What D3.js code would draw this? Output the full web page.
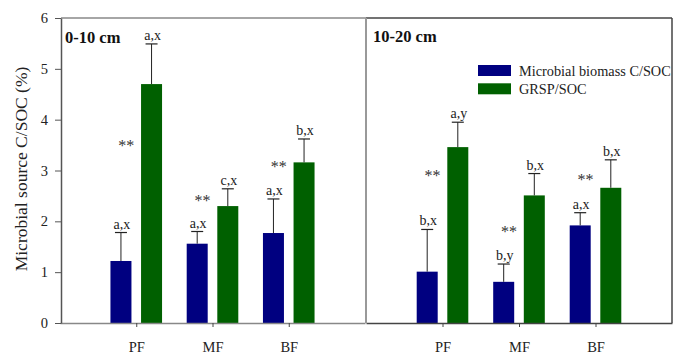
<!DOCTYPE html>
<html>
<head>
<meta charset="utf-8">
<script src="https://cdn.jsdelivr.net/npm/d3@7"></script>
<style>
  body { margin: 0; background: #fff; }
  text { font-family: "Liberation Serif", "Times New Roman", serif; }
</style>
</head>
<body>
<svg width="689" height="361"></svg>
<script>
// data
var categories = ["PF", "MF", "BF"];
var depths = ["0-10 cm", "10-20 cm"];
var seriesNames = ["Microbial biomass C/SOC", "GRSP/SOC"];
var colors = ["#000080", "#006000"];
var yTicks = [0, 1, 2, 3, 4, 5, 6];

var mbcTop = [1.22, 1.56, 1.77];
var mbcTopErr = [0.56, 0.24, 0.67];
var grspTop = [4.70, 2.30, 3.16];
var grspTopErr = [0.79, 0.34, 0.46];
var mbcSub = [1.01, 0.81, 1.92];
var mbcSubErr = [0.83, 0.35, 0.25];
var grspSub = [3.46, 2.51, 2.66];
var grspSubErr = [0.49, 0.43, 0.55];

var mbcTopLetters = ["a,x", "a,x", "a,x"];
var grspTopLetters = ["a,x", "c,x", "b,x"];
var mbcSubLetters = ["b,x", "b,y", "a,x"];
var grspSubLetters = ["a,y", "b,x", "b,x"];

// height at which the "**" marks sit
var starTop = [3.52, 2.43, 3.10];
var starSub = [2.93, 1.83, 2.85];

var svg = d3.select("svg");
var plotTop = 18, plotBottom = 323;
var y = d3.scaleLinear().domain([0, 6]).range([plotBottom, plotTop]);

var panels = [
  {x0: 60, x1: 365, label: depths[0], mbc: mbcTop, mbcErr: mbcTopErr, grsp: grspTop, grspErr: grspTopErr,
   mbcL: mbcTopLetters, grspL: grspTopLetters, stars: starTop},
  {x0: 366, x1: 672, label: depths[1], mbc: mbcSub, mbcErr: mbcSubErr, grsp: grspSub, grspErr: grspSubErr,
   mbcL: mbcSubLetters, grspL: grspSubLetters, stars: starSub}
];

var barW = 21, off = 15.3;

panels.forEach(function(p, pi) {
  var x = d3.scalePoint().domain(categories).range([p.x0, p.x1]).padding(1);
  var g = svg.append("g");

  var series = [
    {v: p.mbc, e: p.mbcErr, l: p.mbcL, c: colors[0], dx: -off},
    {v: p.grsp, e: p.grspErr, l: p.grspL, c: colors[1], dx: off}
  ];

  series.forEach(function(s) {
    var rows = categories.map(function(c, i) { return {c: c, v: s.v[i], e: s.e[i], l: s.l[i]}; });
    g.selectAll(null).data(rows).enter().append("rect")
      .attr("x", d => x(d.c) + s.dx - barW / 2)
      .attr("y", d => y(d.v))
      .attr("width", barW)
      .attr("height", d => y(0) - y(d.v))
      .attr("fill", s.c);
    g.selectAll(null).data(rows).enter().append("line")
      .attr("x1", d => x(d.c) + s.dx).attr("x2", d => x(d.c) + s.dx)
      .attr("y1", d => y(d.v)).attr("y2", d => y(d.v + d.e))
      .attr("stroke", "#222").attr("stroke-width", 1);
    g.selectAll(null).data(rows).enter().append("line")
      .attr("x1", d => x(d.c) + s.dx - 6).attr("x2", d => x(d.c) + s.dx + 6)
      .attr("y1", d => y(d.v + d.e)).attr("y2", d => y(d.v + d.e))
      .attr("stroke", "#222").attr("stroke-width", 1.2);
    g.selectAll(null).data(rows).enter().append("text")
      .attr("x", d => x(d.c) + s.dx + 1)
      .attr("y", d => y(d.v + d.e) - 4)
      .attr("text-anchor", "middle")
      .attr("font-size", 14)
      .attr("fill", "#222")
      .text(d => d.l);
  });

  g.selectAll(null).data(categories).enter().append("text")
    .attr("x", d => x(d) - 10)
    .attr("y", (d, i) => y(p.stars[i]) + 7)
    .attr("text-anchor", "middle")
    .attr("font-size", 16)
    .attr("fill", "#333")
    .text("**");

  // x axis
  var xa = g.append("g").attr("transform", "translate(0," + plotBottom + ")")
    .call(d3.axisBottom(x).tickSize(4).tickSizeOuter(0));
  xa.select(".domain").attr("stroke", pi == 0 ? "#888" : "#444").attr("stroke-width", 1.5);
  xa.selectAll(".tick line").attr("stroke", "#444");
  xa.selectAll(".tick text").attr("font-size", 14.5).attr("font-family", "Liberation Serif")
    .attr("fill", "#222").attr("dy", "1.5em");

  g.append("text")
    .attr("x", p.x0 + (pi == 0 ? 5 : 7))
    .attr("y", pi == 0 ? 43 : 42)
    .attr("font-size", 16.5)
    .attr("font-weight", "bold")
    .attr("fill", "#111")
    .text(p.label);
});

// frame lines
svg.append("line").attr("x1", 61).attr("x2", 366).attr("y1", plotTop).attr("y2", plotTop)
  .attr("stroke", "#888").attr("stroke-width", 1.5);
svg.append("line").attr("x1", 366).attr("x2", 672).attr("y1", plotTop).attr("y2", plotTop)
  .attr("stroke", "#444").attr("stroke-width", 1.5);
svg.append("line").attr("x1", 366).attr("x2", 366).attr("y1", plotTop).attr("y2", plotBottom)
  .attr("stroke", "#999").attr("stroke-width", 2);
svg.append("line").attr("x1", 672).attr("x2", 672).attr("y1", plotTop).attr("y2", plotBottom)
  .attr("stroke", "#444").attr("stroke-width", 1.5);

// y axis
var ya = svg.append("g").attr("transform", "translate(61,0)")
  .call(d3.axisLeft(y).tickValues(yTicks).tickFormat(d3.format("d")).tickSize(6).tickSizeOuter(0));
ya.select(".domain").attr("stroke", "#555").attr("stroke-width", 1.5);
ya.selectAll(".tick line").attr("stroke", "#555");
ya.selectAll(".tick text").attr("font-size", 14.5).attr("font-family", "Liberation Serif").attr("fill", "#222")
  .attr("x", -13);

svg.append("text")
  .attr("transform", "translate(27,169) rotate(-90)")
  .attr("text-anchor", "middle")
  .attr("font-size", 17.5)
  .attr("fill", "#222")
  .text("Microbial source C/SOC (%)");

// legend
var leg = svg.append("g").attr("transform", "translate(478,65)");
seriesNames.forEach(function(n, i) {
  leg.append("rect").attr("x", 0).attr("y", i * 18.3).attr("width", 33).attr("height", 11).attr("fill", colors[i]);
  leg.append("text").attr("x", 41).attr("y", i * 18.3 + 10.5).attr("font-size", 14.3).attr("fill", "#222").text(n);
});
</script>
</body>
</html>
